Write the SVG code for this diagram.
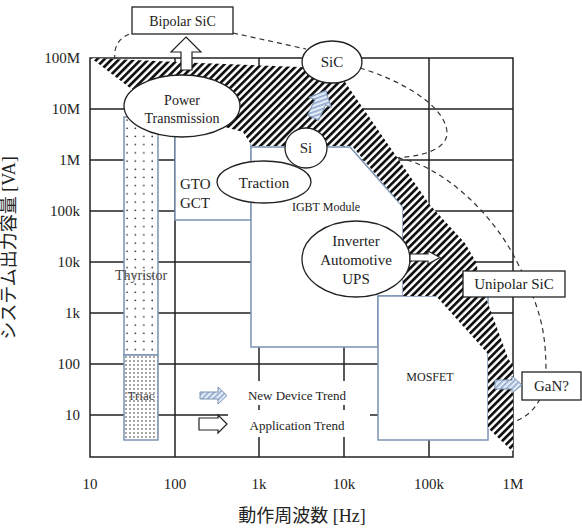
<svg xmlns="http://www.w3.org/2000/svg" width="582" height="532" viewBox="0 0 582 532">
<defs>
<pattern id="hatch" patternUnits="userSpaceOnUse" width="5.2" height="5.2" patternTransform="rotate(45)">
<rect width="5.2" height="5.2" fill="#fff"/>
<rect width="2.7" height="5.2" fill="#111"/>
</pattern>
<pattern id="bluehatch" patternUnits="userSpaceOnUse" width="4" height="4" patternTransform="rotate(45)">
<rect width="4" height="4" fill="#e4ecf6"/>
<rect width="1.6" height="4" fill="#8ea8cf"/>
</pattern>
<pattern id="dots" patternUnits="userSpaceOnUse" width="8.4" height="8.2" x="124" y="117">
<rect width="8.4" height="8.2" fill="#fff"/>
<circle cx="3" cy="3" r="0.8" fill="#111"/>
</pattern>
<pattern id="densedots" patternUnits="userSpaceOnUse" width="4" height="4" x="124" y="355">
<rect width="4" height="4" fill="#fff"/>
<circle cx="2" cy="2" r="0.7" fill="#111"/>
</pattern>
</defs>
<style>
text{font-family:"Liberation Serif","Times New Roman",serif;fill:#222}
.t15{font-size:15px}
.t14{font-size:14px}
.t13{font-size:13px}
.t12{font-size:12px}
.mid{text-anchor:middle}
.end{text-anchor:end}
.grid{stroke:#222;stroke-width:1.5;fill:none}
.box{fill:#fff;stroke:#7b93b3;stroke-width:1.5}
.ell{fill:#fff;stroke:#222;stroke-width:1.3}
.dash{fill:none;stroke:#333;stroke-width:1.2;stroke-dasharray:5 4}
.lbl{fill:#fff;stroke:#222;stroke-width:1.3}
.warrow{fill:#fff;stroke:#222;stroke-width:1.2}
.barrow{fill:url(#bluehatch);stroke:#7b93b3;stroke-width:1}
.cjk{font-family:"Liberation Serif","Noto Sans CJK JP",serif;font-size:18px}
</style>
<rect width="582" height="532" fill="#fff"/>

<g id="axes">
<rect x="90" y="58" width="423" height="399" class="grid"/>
<path class="grid" d="M175,58V457M259,58V457M344,58V457M429,58V457M90,109H513M90,160H513M90,211H513M90,262H513M90,313H513M90,364H513M90,415H513"/>
<g class="t15">
<text x="80" y="63" class="end">100M</text>
<text x="80" y="114" class="end">10M</text>
<text x="80" y="165" class="end">1M</text>
<text x="80" y="216" class="end">100k</text>
<text x="80" y="267" class="end">10k</text>
<text x="80" y="318" class="end">1k</text>
<text x="80" y="369" class="end">100</text>
<text x="80" y="420" class="end">10</text>
<text x="90" y="489" class="mid">10</text>
<text x="175" y="489" class="mid">100</text>
<text x="259" y="489" class="mid">1k</text>
<text x="344" y="489" class="mid">10k</text>
<text x="429" y="489" class="mid">100k</text>
<text x="513" y="489" class="mid">1M</text>
</g>
<text x="302" y="522" class="cjk mid">動作周波数 [Hz]</text>
<text transform="translate(15,248) rotate(-90)" class="cjk mid">システム出力容量 [VA]</text>
</g>

<g id="connectors">
<path class="dash" d="M115,60 C113,46 120,36 133,33"/>
<path class="dash" d="M233,33 L306,49"/>
<path class="dash" d="M360,68 C400,80 445,105 447,132 C448,150 420,157 393,158"/>
<path class="dash" d="M398,158 C440,165 490,210 515,258 S546,330 546,372 C546,400 530,420 505,424"/>
</g>

<g id="thyristor">
<rect x="124" y="117" width="34" height="238" fill="url(#dots)" stroke="#7b93b3" stroke-width="1.5"/>
<text x="141" y="280" class="t14 mid" style="fill:#444">Thyristor</text>
</g>
<g id="triac">
<rect x="124" y="355" width="34" height="85" fill="url(#densedots)" stroke="#7b93b3" stroke-width="1.5"/>
<text x="141" y="400" class="t13 mid" style="fill:#444">Triac</text>
</g>
<g id="gto">
<rect x="175" y="112" width="76" height="108" class="box"/>
<text x="180" y="189" class="t15">GTO</text>
<text x="180" y="208" class="t15">GCT</text>
</g>
<g id="igbt">
<path class="box" d="M251,147 L350,147 L403,207 L403,296 L378,296 L378,347 L251,347 Z"/>
<text x="326" y="211" class="t12 mid">IGBT Module</text>
</g>
<g id="mosfet">
<rect x="378" y="296" width="110" height="144" class="box"/>
<text x="430" y="381" class="t12 mid">MOSFET</text>
</g>

<g id="band">
<polygon fill="url(#hatch)" points="91,58 200,63 300,67 330,70 345,82 430,205 465,243 476,262 480,282 493,317 508,358 513,366 513,452 488,428 488,354 436,296 403,296 403,207 352,146 252,146 243,132 225,127 180,110 130,88"/>
</g>

<g id="si-sic-arrow">
<path class="barrow" transform="translate(319,105) rotate(25)" d="M0,-16 L12,-3 L6,-3 L6,14 L-6,14 L-6,-3 L-12,-3 Z"/>
</g>
<g id="bipolar-arrow">
<path class="warrow" d="M186,37 L201,52 L192,52 L192,70 L181,70 L181,52 L171,52 Z"/>
</g>

<g id="power-transmission">
<ellipse cx="182" cy="106" rx="58" ry="31" class="ell"/>
<text x="182" y="105" class="t14 mid">Power</text>
<text x="182" y="123" class="t14 mid">Transmission</text>
</g>
<g id="sic">
<ellipse cx="332" cy="62" rx="30" ry="21" class="ell"/>
<text x="332" y="67" class="t15 mid">SiC</text>
</g>
<g id="si">
<ellipse cx="306" cy="148" rx="21" ry="20" class="ell"/>
<text x="306" y="153" class="t15 mid">Si</text>
</g>
<g id="traction">
<ellipse cx="264" cy="182" rx="47" ry="21" class="ell"/>
<text x="264" y="188" class="t15 mid">Traction</text>
</g>
<g id="inverter">
<ellipse cx="356" cy="259" rx="54" ry="38" class="ell"/>
<text x="356" y="246" class="t15 mid">Inverter</text>
<text x="356" y="265" class="t15 mid">Automotive</text>
<text x="356" y="284" class="t15 mid">UPS</text>
</g>
<g id="inverter-arrow">
<path class="warrow" d="M410,254 L428,254 L428,251 L440,257.5 L428,264 L428,261 L410,261 Z"/>
</g>

<g id="bipolar-sic">
<rect x="132" y="7" width="101" height="27" class="lbl"/>
<text x="182.5" y="26" class="t14 mid">Bipolar SiC</text>
</g>
<g id="unipolar-sic">
<rect x="463" y="271" width="102" height="26" class="lbl"/>
<text x="514" y="289" class="t15 mid">Unipolar SiC</text>
</g>
<g id="gan">
<rect x="522" y="372" width="59" height="28" class="lbl"/>
<text x="551.5" y="391" class="t15 mid">GaN?</text>
</g>
<g id="gan-arrow">
<path class="barrow" d="M495,380 L512,380 L512,376 L522,385 L512,393 L512,389 L495,389 Z"/>
</g>

<g id="legend">
<rect x="228" y="381" width="140" height="24" fill="#fff"/>
<rect x="228" y="410" width="142" height="27" fill="#fff"/>
<path class="barrow" d="M200,392 L218,392 L218,387 L227,395.5 L218,404 L218,399 L200,399 Z"/>
<path class="warrow" d="M199,418 L218,418 L218,415 L227,424 L218,433 L218,430 L199,430 Z"/>
<text x="297" y="400" class="t13 mid">New Device Trend</text>
<text x="297" y="430" class="t13 mid">Application Trend</text>
</g>
</svg>
